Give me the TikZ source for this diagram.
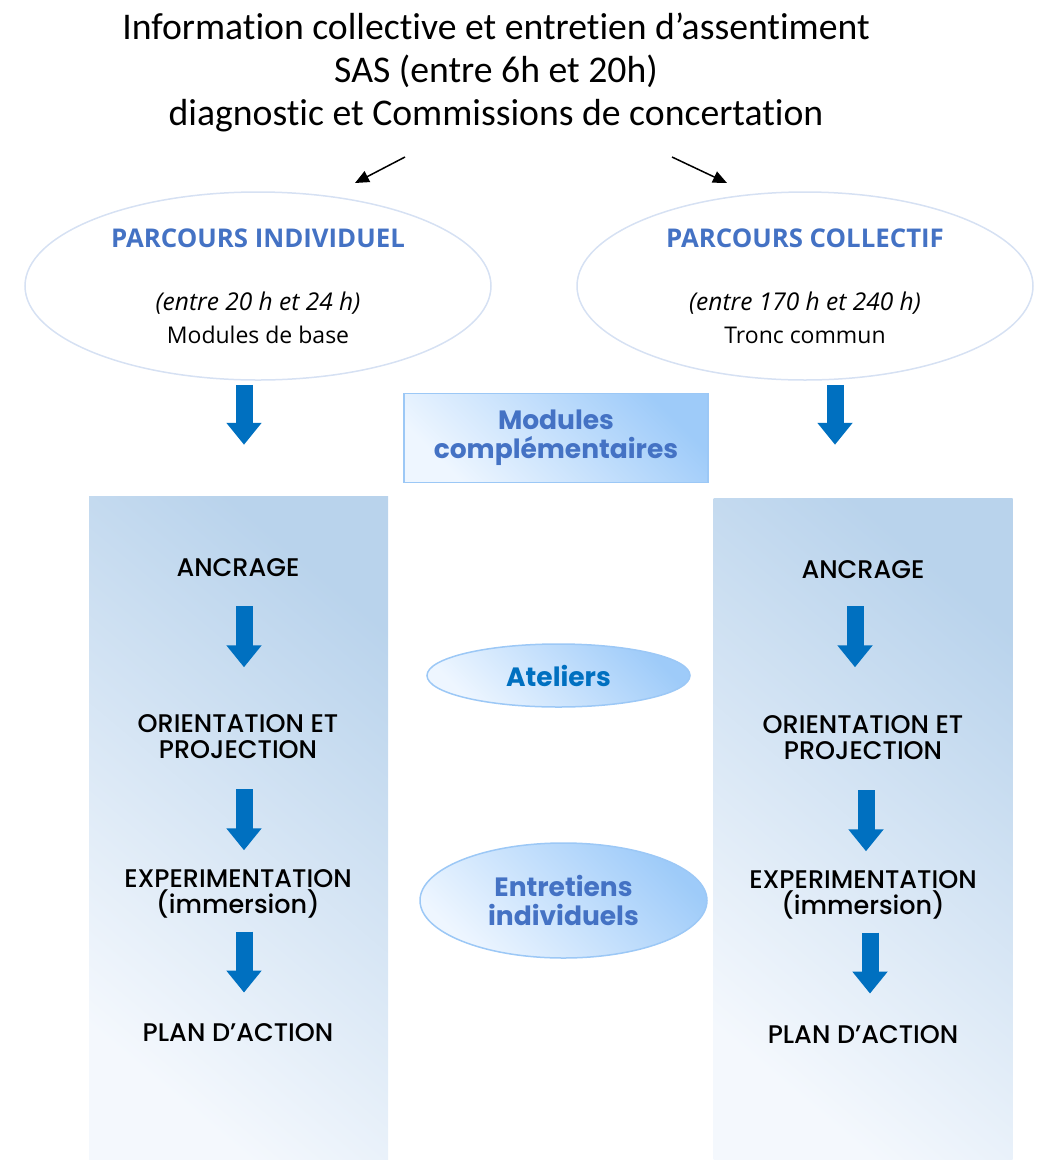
\documentclass[tikz,border=0pt]{standalone}
\usepackage{fontspec}
\setmainfont{Carlito}[Ligatures=NoCommon]
\newfontfamily\bodyfont{Open Sans}
\newfontfamily\stepfont{Poppins Medium}
\newfontfamily\bubblefont{Poppins}
\usetikzlibrary{arrows.meta,shapes.geometric,positioning}
\definecolor{headblue}{HTML}{4472C4}
\definecolor{arrowblue}{HTML}{0070C0}
\definecolor{ringblue}{HTML}{D6E1F3}
\definecolor{edgeblue}{HTML}{9CC8F6}
\definecolor{bubbledark}{HTML}{9ECBF9}
\definecolor{bubblelight}{HTML}{EEF6FF}
\definecolor{coldark}{HTML}{B9D3EC}
\definecolor{collight}{HTML}{F4F8FD}
\newcommand\headtext[1]{{\bfseries\fontsize{25.8}{33}\selectfont\color{headblue}#1}}
\newcommand\spantext[1]{{\itshape\fontsize{24.5}{33}\selectfont #1}}

\begin{document}
\begin{tikzpicture}[x=1pt,y=1pt]
    \tikzstyle{every node}=[inner sep=0pt, align=center]
    \tikzstyle{title}=[font=\fontsize{37.7}{43}\selectfont]
    \tikzstyle{parcours}=[ellipse, draw=ringblue, line width=1.5pt, font=\bodyfont\fontsize{23}{33}\selectfont]
    \tikzstyle{bubble}=[draw=edgeblue, line width=1.5pt, top color=bubbledark, bottom color=bubblelight, shading angle=-45, font=\bubblefont\bfseries\fontsize{26.5}{29}\selectfont, text=headblue]
    \tikzstyle{column}=[top color=coldark, bottom color=collight, shading angle=-40, minimum width=299]
    \tikzstyle{stepbox}=[font=\stepfont\fontsize{25.5}{26}\selectfont]
    \tikzstyle{bigarrow}=[arrowblue, line width=17pt, -{Triangle[width=34pt,length=22pt]}]
    \tikzstyle{thinarrow}=[line width=1.5pt, -{Triangle[width=12pt,length=14pt]}]
    \useasboundingbox (0,0) rectangle (1041,-1160);

    \node[column, minimum height=664] (colL) at (238.5,-828) {};
    \node[column, minimum height=662] (colR) at (863,-829) {};

    \node[title] (title) at (496,-72) {Information collective et entretien d’assentiment\\SAS (entre 6h et 20h)\\diagnostic et Commissions de concertation};
    \coordinate (fromL) at (405,-157); \coordinate (toL) at (355,-183);
    \coordinate (fromR) at (672,-157); \coordinate (toR) at (727,-183);
    \draw[thinarrow] (fromL) -- (toL);
    \draw[thinarrow] (fromR) -- (toR);

    \node[parcours, minimum width=466, minimum height=188] (indiv) at (258,-286) {\headtext{PARCOURS INDIVIDUEL}\\[30pt]\spantext{(entre 20 h et 24 h)}\\Modules de base};
    \node[parcours, minimum width=456, minimum height=188] (collect) at (805,-286) {\headtext{PARCOURS COLLECTIF}\\[30pt]\spantext{(entre 170 h et 240 h)}\\Tronc commun};

    \node[bubble, rectangle, minimum width=304, minimum height=89] (modules) at (556,-438) {Modules\\complémentaires};
    \node[bubble, ellipse, minimum width=263, minimum height=63, text=arrowblue] (ateliers) at (558.5,-675.5) {Ateliers};
    \node[bubble, ellipse, minimum width=287, minimum height=115] (entretiens) at (563.5,-900.5) {Entretiens\\individuels};

    \draw[bigarrow] ([xshift=-14pt,yshift=-4pt]indiv.south) -- ++(0,-60);
    \draw[bigarrow] ([xshift=30pt,yshift=-4pt]collect.south) -- ++(0,-60);

    \node[stepbox] (ancL) at (238,-568) {ANCRAGE};
    \node[stepbox] (oriL) at (238,-737) {ORIENTATION ET\\PROJECTION};
    \node[stepbox] (expL) at (238,-894) {EXPERIMENTATION\\(immersion)};
    \node[stepbox] (planL) at (238,-1033) {PLAN D’ACTION};
    \node[stepbox] (ancR) at (863,-570) {ANCRAGE};
    \node[stepbox] (oriR) at (863,-738) {ORIENTATION ET\\PROJECTION};
    \node[stepbox] (expR) at (863,-895) {EXPERIMENTATION\\(immersion)};
    \node[stepbox] (planR) at (863,-1035) {PLAN D’ACTION};

    \draw[bigarrow] ([xshift=6pt,yshift=-29pt]ancL.south) -- ++(0,-61);
    \draw[bigarrow] ([xshift=6pt,yshift=-30pt]oriL.south) -- ++(0,-61);
    \draw[bigarrow] ([xshift=6pt,yshift=-13pt]expL.south) -- ++(0,-61);
    \draw[bigarrow] ([xshift=-8pt,yshift=-27pt]ancR.south) -- ++(0,-61);
    \draw[bigarrow] ([xshift=3pt,yshift=-30pt]oriR.south) -- ++(0,-61);
    \draw[bigarrow] ([xshift=7pt,yshift=-13pt]expR.south) -- ++(0,-61);
\end{tikzpicture}
\end{document}
